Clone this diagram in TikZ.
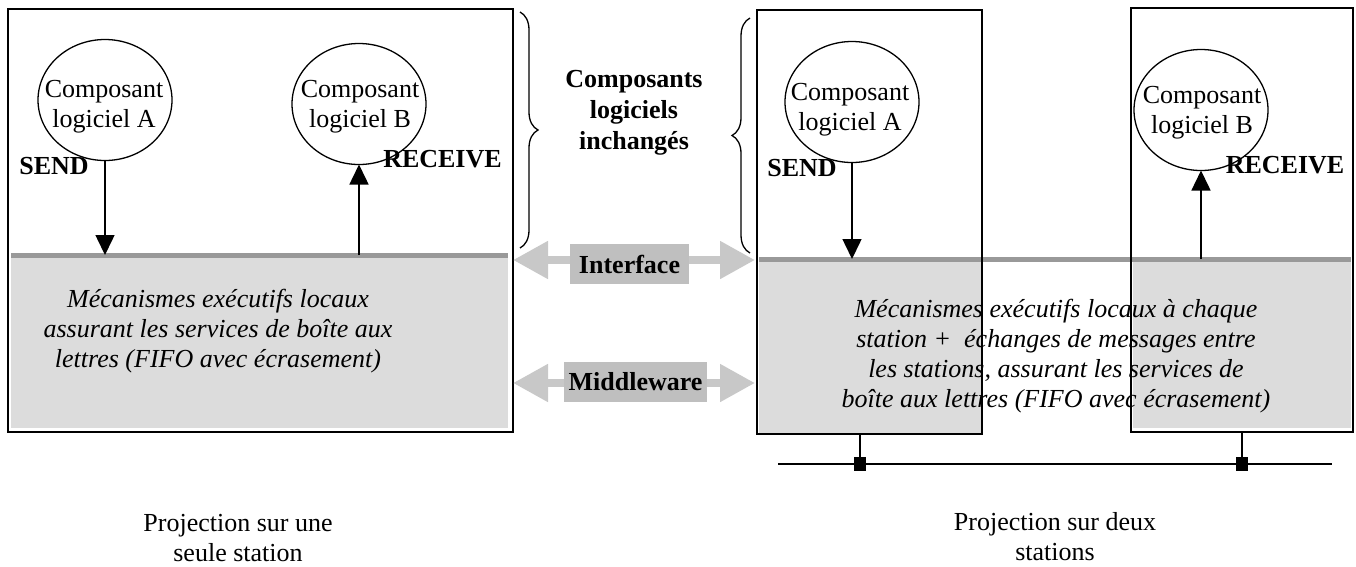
\documentclass[tikz,border=0pt]{standalone}
\usepackage{fontspec}
\setmainfont{Liberation Serif}
\usetikzlibrary{shapes.geometric,arrows.meta,decorations.pathreplacing}
\definecolor{fillgray}{HTML}{DCDCDC}
\definecolor{linegray}{HTML}{999999}
\definecolor{arrgray}{HTML}{C8C8C8}
\definecolor{tagray}{HTML}{BFBFBF}
\begin{document}
\begin{tikzpicture}[x=1pt,y=-1pt,
  every node/.style={font=\fontsize{26}{30}\selectfont, inner sep=0pt, outer sep=0pt},
  frame/.style={draw=black, line width=1.5pt},
  comp/.style={ellipse, draw=black, line width=1.3pt, minimum width=134pt, minimum height=121pt},
  txt/.style={align=center},
  mech/.style={align=center, font=\fontsize{26}{30}\selectfont\itshape},
  kw/.style={font=\fontsize{26}{30}\selectfont\bfseries, anchor=base},
  call/.style={line width=1.5pt, -{Triangle[length=20pt,width=19pt]}},
  big/.style={line width=8pt, draw=arrgray, {Triangle[length=35pt,width=36pt]}-{Triangle[length=35pt,width=36pt]}},
  tag/.style={fill=tagray, font=\fontsize{26}{30}\selectfont\bfseries},
  sep/.style={draw=linegray, line width=5pt},
  brc/.style={decorate, decoration={brace, amplitude=18pt}, line width=1.3pt}
]
\useasboundingbox (0,0) rectangle (1356,566);

% gray areas
\fill[fillgray] (11,257) rectangle (508,428);
\fill[fillgray] (759,261) rectangle (981,433);
\fill[fillgray] (1133,261) rectangle (1351,428);

% interface lines
\coordinate (sepL1) at (11,255);
\coordinate (sepL2) at (508,255);
\coordinate (sepR1) at (759,259);
\coordinate (sepR2) at (1351,259);
\draw[sep] (sepL1) -- (sepL2);
\draw[sep] (sepR1) -- (sepR2);

% frames
\node[frame, minimum width=505pt, minimum height=423pt] (L) at (260.5,220.5) {};
\node[frame, minimum width=225pt, minimum height=424pt] (S1) at (869.5,222) {};
\node[frame, minimum width=222pt, minimum height=424pt] (S2) at (1242,220) {};

% components
\node[comp] (eA1) at (105,100) {};
\node[txt] (tA1) at (104,107) {Composant\\logiciel A};
\node[comp] (eB1) at (359,104) {};
\node[txt] (tB1) at (360,106.5) {Composant\\logiciel B};
\node[comp] (eA2) at (852,102) {};
\node[txt] (tA2) at (850,110) {Composant\\logiciel A};
\node[comp] (eB2) at (1201,110) {};
\node[txt] (tB2) at (1202,113) {Composant\\logiciel B};

% keywords
\node[kw] (send1) at (54,174) {SEND};
\node[kw] (recv1) at (442.5,167) {RECEIVE};
\node[kw] (send2) at (802,176) {SEND};
\node[kw] (recv2) at (1285,173) {RECEIVE};

% calls
\draw[call] (eA1.south) -- (eA1.south |- sepL1);
\draw[call] (eB1.south |- sepL1) -- (eB1.south);
\draw[call] (eA2.south) -- (eA2.south |- sepR1);
\draw[call] (eB2.south |- sepR1) -- (eB2.south);

% mechanisms
\node[mech] (m1) at (218,331.5) {Mécanismes exécutifs locaux\\assurant les services de boîte aux\\lettres (FIFO avec écrasement)};
\node[mech] (m2) at (1056,356) {Mécanismes exécutifs locaux à chaque\\station +\ \ échanges de messages entre\\les stations, assurant les services de\\boîte aux lettres (FIFO avec écrasement)};

% braces
\coordinate (b1t) at (520,12);
\coordinate (b1b) at (520,248);
\coordinate (b2b) at (750,253);
\coordinate (b2t) at (750,18);
\draw[brc] (b1t) -- (b1b);
\draw[brc] (b2b) -- (b2t);
\node[txt, font=\fontsize{26}{31}\selectfont\bfseries] (unch) at (634,113) {Composants\\logiciels\\inchangés};

% big arrows
\coordinate (iL) at (513,260);
\coordinate (iR) at (755,260);
\draw[big] (iL) -- (iR);
\node[tag, minimum width=119pt, minimum height=40pt] (iface) at (629.5,264) {Interface};
\coordinate (mL) at (513,383);
\coordinate (mR) at (755,383);
\draw[big] (mL) -- (mR);
\node[tag, minimum width=143pt, minimum height=40pt] (mw) at (635.5,382) {Middleware};

% bus
\coordinate (busL) at (778,464);
\coordinate (busR) at (1332,464);
\draw[line width=1.5pt] (busL) -- (busR);
\node[fill=black, minimum width=12pt, minimum height=14pt] (j1) at (860,464) {};
\node[fill=black, minimum width=12pt, minimum height=14pt] (j2) at (1242,464) {};
\draw[line width=1.5pt] (j1 |- S1.south) -- (j1);
\draw[line width=1.5pt] (j2 |- S2.south) -- (j2);

% captions
\node[txt] (cap1) at (238,538.5) {Projection sur une\\seule station};
\node[txt] (cap2) at (1055,537) {Projection sur deux\\stations};
\end{tikzpicture}
\end{document}
